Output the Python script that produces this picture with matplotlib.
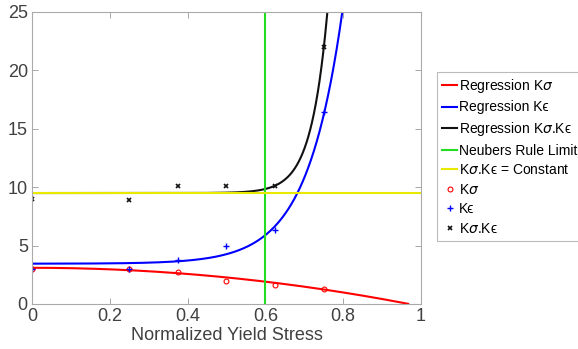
import numpy as np
import matplotlib
matplotlib.use('Agg')
import matplotlib.pyplot as plt

plt.rcParams['font.family'] = ['Liberation Sans', 'DejaVu Sans']
plt.rcParams['mathtext.fontset'] = 'dejavusans'

# measured points
x_pts = [0, 0.25, 0.375, 0.5, 0.625, 0.75]
k_sigma = [3.0, 3.0, 2.7, 2.0, 1.6, 1.3]
k_eps = [3.0, 3.0, 3.8, 5.0, 6.3, 16.4]
k_prod = [9.0, 8.9, 10.1, 10.1, 10.1, 22.0]

# regression coefficients
sig_a, sig_b = 3.1, 3.3            # a - b*x^2
eps_a, eps_b, eps_c = 3.45, 2.45, 11.0   # a + b*exp(c*(x-0.6))
prod_a, prod_b, prod_c = 9.5, 0.35, 23.8
neuber_limit = 0.6
const_level = 9.5

xs = np.linspace(0, 0.967, 400)
reg_sig = sig_a - sig_b * xs**2
reg_eps = eps_a + eps_b * np.exp(eps_c * (xs - 0.6))
reg_prod = prod_a + prod_b * np.exp(prod_c * (xs - 0.6))

EPS = '\u03f5'
fig = plt.figure(figsize=(5.78, 3.49), dpi=100)
ax = fig.add_axes([32/578, 1 - 304/349, (421-32)/578, (304-12)/349])

ax.plot(xs, reg_sig, color='#ff0000', lw=1.5, label=r'Regression K$\sigma$')
ax.plot(xs, reg_eps, color='#0000ff', lw=1.5, label='Regression K' + EPS)
ax.plot(xs, reg_prod, color='#111111', lw=1.5, label=r'Regression K$\sigma$.K' + EPS)
ax.axvline(neuber_limit, color='#22dd22', lw=1.5, label='Neubers Rule Limit')
ax.axhline(const_level, color='#e8e800', lw=1.5, label=r'K$\sigma$.K' + EPS + ' = Constant')
ax.plot(x_pts, k_sigma, 'o', ms=3.5, mfc='none', mec='#ff0000', mew=0.8, label=r'K$\sigma$')
ax.plot(x_pts, k_eps, '+', ms=4, color='#0000ff', mew=1, label='K' + EPS)
ax.plot(x_pts, k_prod, 'x', ms=3, color='#111111', mew=1.2, label=r'K$\sigma$.K' + EPS)

ax.set_xlim(0, 1)
ax.set_ylim(0, 25)
ax.set_xticks([0, 0.2, 0.4, 0.6, 0.8, 1])
ax.set_xticklabels(['0', '0.2', '0.4', '0.6', '0.8', '1'])
ax.set_yticks([0, 5, 10, 15, 20, 25])
ax.tick_params(direction='in', top=True, right=True, length=4, width=0.6,
               color='#999999', labelsize=13, labelcolor='#404040', pad=3)
for s in ax.spines.values():
    s.set_color('#aaaaaa')
    s.set_linewidth(0.8)
ax.set_xlabel('Normalized Yield Stress', fontsize=13, color='#404040', labelpad=1)

leg = ax.legend(loc='upper left', bbox_to_anchor=(437/578, 1 - 72/349),
                bbox_transform=fig.transFigure, borderaxespad=0, fontsize=10,
                handlelength=1.1, handletextpad=0.1, borderpad=0.35,
                labelspacing=0.4, fancybox=False, frameon=True)
leg.get_frame().set_edgecolor('#aaaaaa')
leg.get_frame().set_linewidth(0.8)

fig.savefig('out.png', dpi=100)
